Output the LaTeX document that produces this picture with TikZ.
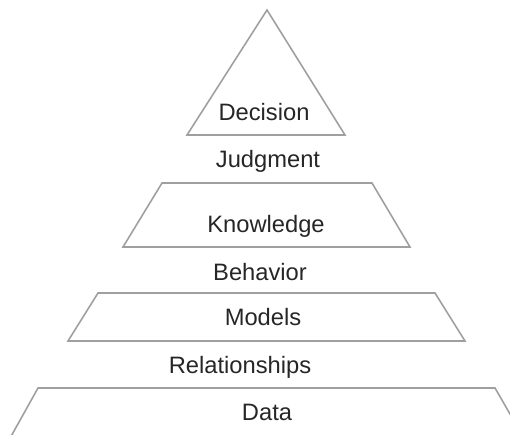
\documentclass[tikz,border=0pt]{standalone}
\usepackage{fontspec}
\setmainfont{Liberation Sans}
\usetikzlibrary{positioning}
\tikzset{
level/.style={draw=gray!75, line width=0.9pt, line join=miter}, % outline of each level of the pyramid
lbl/.style={anchor=base, text=black!85, inner sep=0pt, font=\fontsize{13.5}{16}\selectfont}, % every text
}

\begin{document}
\begin{tikzpicture}[x=0.02cm, y=-0.02cm]
    \useasboundingbox (0,0) rectangle (510,434);
    \clip (0,0) rectangle (510,434);
    % the levels, top to bottom
    \draw[level] (267,10) -- (345,135) -- (187,135) -- cycle;
    \draw[level] (162,183) -- (372,183) -- (410,247) -- (123,247) -- cycle;
    \draw[level] (98,293) -- (435,293) -- (465,341) -- (68,341) -- cycle;
    \draw[level] (38,388) -- (495,388) -- (525,440) -- (9,440) -- cycle;
    % texts
    \node[lbl] (decision) at (264,120) {Decision};
    \node[lbl] (judgment) at (268,167) {Judgment};
    \node[lbl] (knowledge) at (266,232) {Knowledge};
    \node[lbl] (behavior) at (260,280) {Behavior};
    \node[lbl] (models) at (263,325) {Models};
    \node[lbl] (relations) at (240,373) {Relationships};
    \node[lbl] (data) at (267,420) {Data};
\end{tikzpicture}
\end{document}
